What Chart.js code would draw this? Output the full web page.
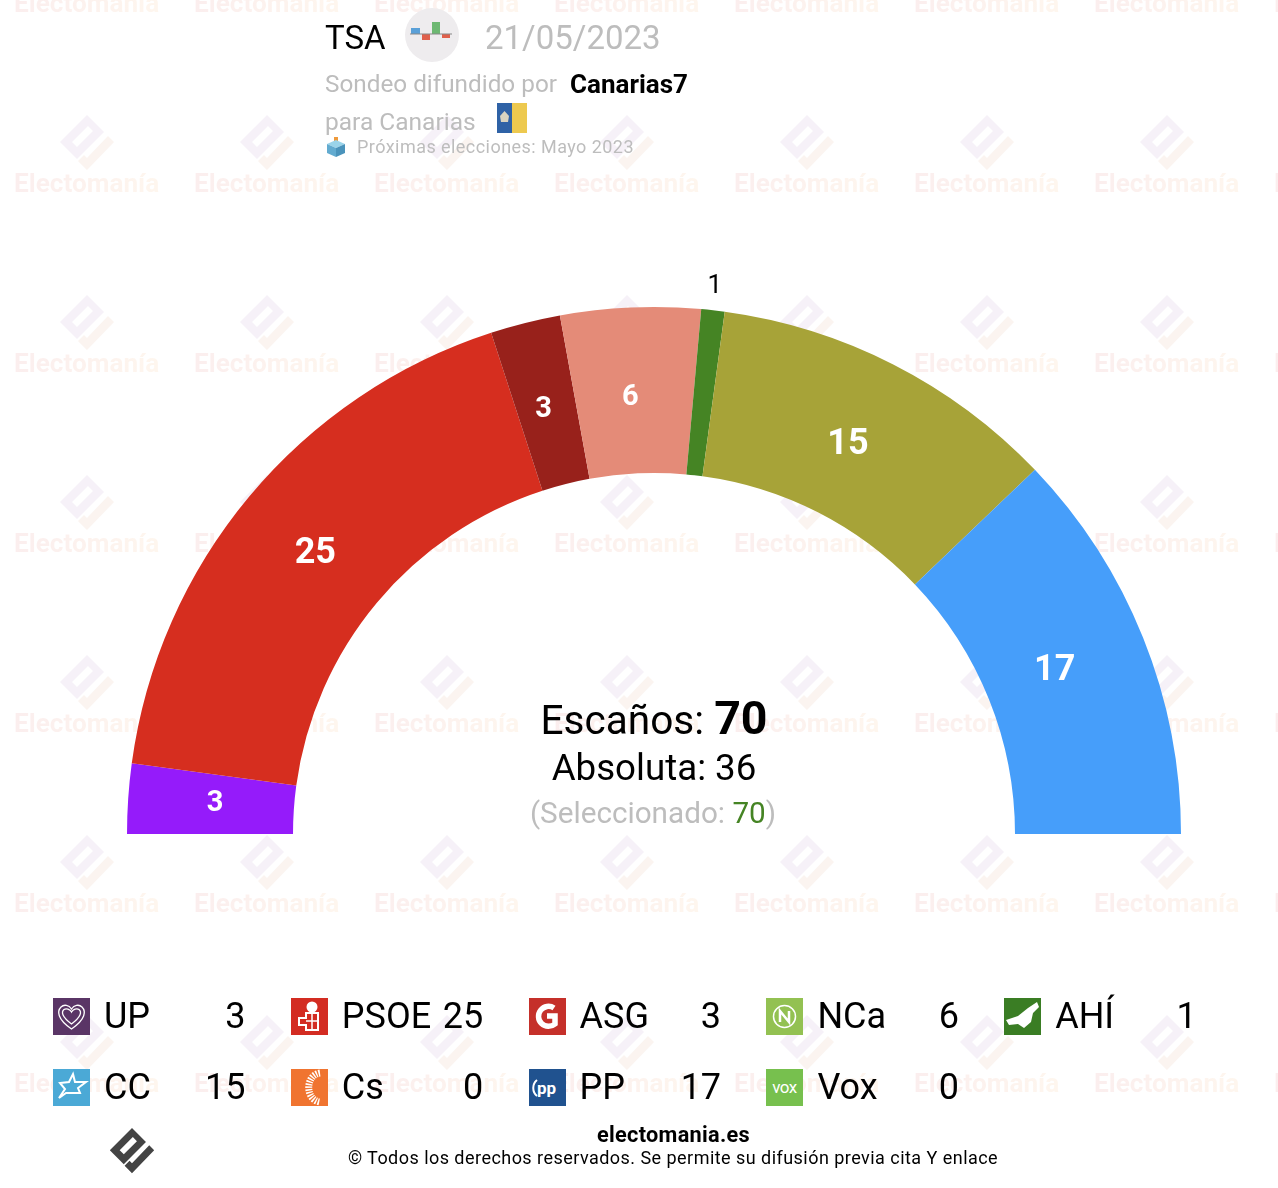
<!DOCTYPE html>
<html lang="es">
<head>
  <meta charset="UTF-8">
  <title>TSA 21/05/2023</title>
  <script src="https://cdn.jsdelivr.net/npm/chart.js"></script>
  <style>
    html, body { margin: 0; padding: 0; background: #fff; }
    body { position: relative; width: 1278px; height: 1188px; overflow: hidden; font-family: Roboto, sans-serif; color: #000; }
    .t { position: absolute; white-space: nowrap; line-height: 1; }
    .c { transform: translateX(-50%); }
    .r { transform: translateX(-100%); }
    .grey { color: #bdbdbd; }
    #chart { position: absolute; left: 0; top: 0; }
    .mark { position: absolute; width: 180px; height: 180px; }
    .mark span { position: absolute; left: 14px; top: 18px; font-size: 26.2px; font-weight: 700; line-height: 1;
      background: linear-gradient(90deg, #fbeeee, #fef6ee); -webkit-background-clip: text; background-clip: text; color: transparent; }
    .icon { position: absolute; width: 37px; height: 37px; }
  </style>
</head>
<body>
  <svg width="0" height="0" style="position:absolute">
    <symbol id="logoTop" viewBox="0 0 54 56">
      <path fill-rule="evenodd" d="M27 0 L44 17 L17 44 L0 27 Z M12 27 L17 32 L33 16 L28 11 Z"/>
    </symbol>
    <symbol id="logoHook" viewBox="0 0 54 56">
      <path d="M48 21 L54 27 L27 55 L18 46 L24 40 L27 43 Z"/>
    </symbol>
  </svg>

  <div id="watermark"></div>
  <canvas id="chart" width="1278" height="1188" style="width:1278px;height:1188px"></canvas>

  <div class="t" style="left:325px;top:21px;font-size:33px">TSA</div>
  <svg class="icon" style="left:405px;top:8px;width:54px;height:54px" viewBox="0 0 54 54">
    <circle cx="27" cy="27" r="27" fill="#eeecee"/>
    <rect x="6" y="20" width="9" height="6" fill="#5aa0d8"/>
    <rect x="17" y="26" width="8" height="6" fill="#e0604c"/>
    <rect x="27" y="14" width="8" height="12" fill="#6db872"/>
    <rect x="37" y="26" width="8" height="4" fill="#e0604c"/>
    <rect x="5" y="25.5" width="42" height="1" fill="#888"/>
  </svg>
  <div class="t grey" style="left:485px;top:21px;font-size:33px">21/05/2023</div>
  <div class="t grey" style="left:325px;top:72px;font-size:24.3px">Sondeo difundido por</div>
  <div class="t" style="left:570px;top:71px;font-size:26px;font-weight:700">Canarias7</div>
  <div class="t grey" style="left:325px;top:110px;font-size:24.5px">para Canarias</div>
  <svg class="icon" style="left:497px;top:103px;width:30px;height:30px" viewBox="0 0 30 30">
    <rect width="15" height="30" fill="#2f62a6"/><rect x="15" width="15" height="30" fill="#edc94f"/>
    <path d="M3 13 L7.5 8 L12 13 L11 19 L4 19 Z" fill="#d9d4c0"/>
  </svg>
  <svg class="icon" style="left:326px;top:137px;width:20px;height:21px" viewBox="0 0 20 21">
    <rect x="8" y="0" width="4" height="6" fill="#ee9a3c"/>
    <path d="M10 3 L19 7 L10 11 L1 7 Z" fill="#9ad4ea"/>
    <path d="M1 7 L10 11 L10 20 L1 16 Z" fill="#62abd0"/>
    <path d="M19 7 L10 11 L10 20 L19 16 Z" fill="#4a93bb"/>
  </svg>
  <div class="t grey" style="left:357px;top:138px;font-size:18px;letter-spacing:0.45px">Próximas elecciones: Mayo 2023</div>

  <div class="t c" style="left:654px;top:695px;font-size:40.6px">Escaños: <b style="font-size:46.5px">70</b></div>
  <div class="t c" style="left:654px;top:750px;font-size:36.7px">Absoluta: 36</div>
  <div class="t c grey" style="left:653px;top:798px;font-size:29.7px">(Seleccionado: <span style="color:#458424">70</span>)</div>

  <div id="legend"></div>

  <svg class="icon" style="left:109px;top:1128px;width:46px;height:46px;fill:#444" viewBox="0 0 54 56">
    <use href="#logoTop"/><use href="#logoHook"/>
  </svg>
  <div class="t c" style="left:673.5px;top:1124px;font-size:21.7px;font-weight:700;letter-spacing:0.3px">electomania.es</div>
  <div class="t c" style="left:673px;top:1149px;font-size:18px;letter-spacing:0.46px">© Todos los derechos reservados. Se permite su difusión previa cita Y enlace</div>

  <script>
    // Seats per party, in chart order
    const parties = ['UP', 'PSOE', 'ASG', 'NCa', 'AHÍ', 'CC', 'Cs', 'PP', 'Vox'];
    const seats = [3, 25, 3, 6, 1, 15, 0, 17, 0];
    const colors = ['#951bfa', '#d62e1f', '#98211b', '#e48b78', '#458424', '#a7a338', '#f07430', '#469efa', '#77c04e'];
    const iconColors = ['#5a3566', '#d32c22', '#c5302a', '#93c152', '#3a7d24', '#4ba9d6', '#f07430', '#20528f', '#77c04e'];

    // Small white glyphs for the party squares
    const iconArt = {
      UP: '<path d="M18.5 31 C4 21 4 13 8 9 C11 6 16 7 18.5 11 C21 7 26 6 29 9 C33 13 33 21 18.5 31 Z" fill="none" stroke="#fff" stroke-width="1.3"/><path d="M18.5 26 C9 19 8 14 11 11.5 C13 10 17 11 18.5 14 C20 11 24 10 26 11.5 C29 14 28 19 18.5 26 Z" fill="none" stroke="#fff" stroke-width="1.3"/>',
      PSOE: '<circle cx="21" cy="9" r="5.5" fill="#fff"/><path d="M15 15 H27 V32 H15 V27 H8 V20 H15 Z" fill="none" stroke="#fff" stroke-width="2"/><path d="M21 15 V32 M15 23 H27" stroke="#fff" stroke-width="1.5"/>',
      ASG: '<path d="M25 10 A10 10 0 1 0 26 26 V18 H18" fill="none" stroke="#fff" stroke-width="5.5"/>',
      NCa: '<circle cx="18.5" cy="18.5" r="11" fill="none" stroke="#fff" stroke-width="1.5"/><path d="M14 24 V13 L23 24 V13" fill="none" stroke="#fff" stroke-width="2.5"/>',
      'AHÍ': '<path d="M2 22 L14 18 L24 10 L33 4 L35 9 L29 15 L27 24 L20 30 L14 26 L5 27 Z" fill="#fff"/>',
      CC: '<path d="M20 5 L22 13 L33 13 L25 19 L27 24 L13 24 L6 29 L12 20 L7 14 L16 13 Z" fill="none" stroke="#fff" stroke-width="2"/>',
      Cs: '<path d="M29 4 C14 6 14 31 29 33" fill="none" stroke="#fff" stroke-width="7" stroke-dasharray="1.5 1.2"/>',
      PP: '<path d="M8 11 C3 15 3 23 8 27" fill="none" stroke="#fff" stroke-width="2"/><text x="8" y="25" font-family="Roboto" font-weight="700" font-size="17" fill="#fff">pp</text>',
      Vox: '<text x="18.5" y="24" text-anchor="middle" font-family="Roboto" font-size="17" letter-spacing="-0.5" fill="#fff">vox</text>'
    };

    // Legend rows: 5 columns then 4
    const legend = document.getElementById('legend');
    parties.forEach((name, i) => {
      const col = i % 5, row = Math.floor(i / 5);
      const x = 53 + col * 237.8, y = 998 + row * 70.6;
      legend.innerHTML += `
        <svg class="icon" style="left:${x}px;top:${y}px" viewBox="0 0 37 37"><rect width="37" height="37" fill="${iconColors[i]}"/>${iconArt[name]}</svg>
        <div class="t" style="left:${x + 51}px;top:${y}px;font-size:36px">${name}</div>
        <div class="t r" style="left:${x + 192.5}px;top:${y}px;font-size:36px">${seats[i]}</div>`;
    });

    // Background watermark tiles
    const wm = document.getElementById('watermark');
    for (let r = 0; r < 7; r++) {
      for (let c = 0; c < 8; c++) {
        wm.innerHTML += `<div class="mark" style="left:${c * 180}px;top:${r * 180 - 28}px"><span>Electomanía</span></div>`;
        if (r > 0) {
          wm.innerHTML += `<svg class="icon" style="left:${c * 180 + 60}px;top:${r * 180 - 65}px;width:54px;height:56px" viewBox="0 0 54 56"><use href="#logoTop" fill="#f6f1f8"/><use href="#logoHook" fill="#fbf4f0"/></svg>`;
        }
      }
    }

    // Seat numbers on the arcs, the tiny seat goes outside in black
    const arcLabels = {
      id: 'arcLabels',
      afterDatasetsDraw(chart) {
        const ctx = chart.ctx;
        chart.getDatasetMeta(0).data.forEach((arc, i) => {
          if (!seats[i]) return;
          const outside = seats[i] < 2;
          const mid = (arc.startAngle + arc.endAngle) / 2;
          const r = outside ? arc.outerRadius + 24 : (arc.outerRadius + arc.innerRadius) / 2 - 8;
          const dx = outside ? -1 : -4;
          const dy = outside ? 0 : -1;
          ctx.save();
          ctx.textAlign = 'center';
          ctx.textBaseline = 'middle';
          const big = seats[i] > 10;
          ctx.font = outside ? '26px Roboto' : `700 ${big ? 36 : 29}px Roboto`;
          ctx.fillStyle = outside ? '#000' : '#fff';
          ctx.fillText(seats[i], arc.x + dx + Math.cos(mid) * r, arc.y + dy + Math.sin(mid) * r);
          ctx.restore();
        });
      }
    };

    new Chart(document.getElementById('chart'), {
      type: 'doughnut',
      data: {
        labels: parties,
        datasets: [{ data: seats, backgroundColor: colors, borderWidth: 0 }]
      },
      options: {
        responsive: false,
        animation: false,
        rotation: -90,
        circumference: 180,
        cutout: '68.5%',
        layout: { padding: { left: 127, right: 97, top: 307, bottom: 354 } },
        plugins: { legend: { display: false }, tooltip: { enabled: false } }
      },
      plugins: [arcLabels]
    });
  </script>
</body>
</html>
